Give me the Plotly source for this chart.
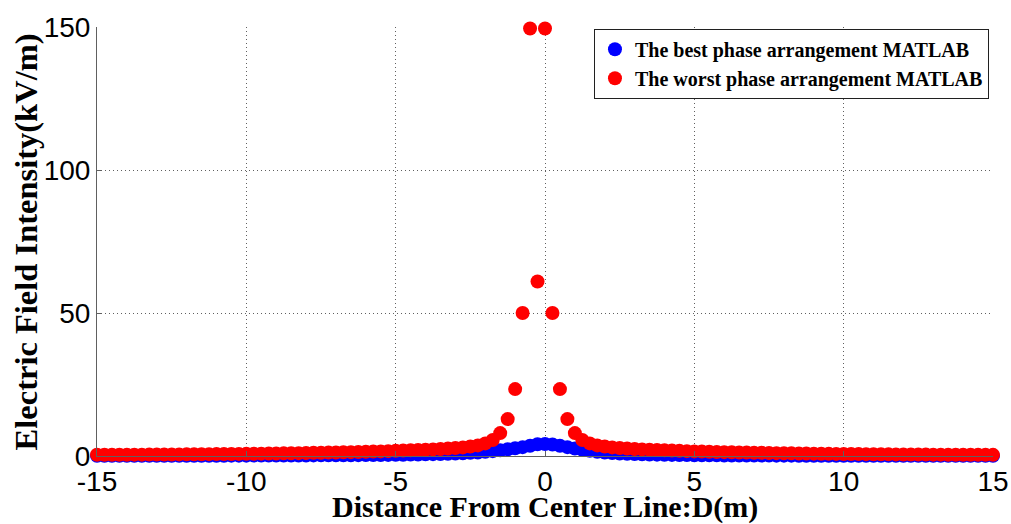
import plotly.graph_objects as go

# Lateral distance from the line centre (m), 0.25 m spacing
distance_m = [
    -15.0, -14.75, -14.5, -14.25, -14.0, -13.75, -13.5, -13.25, -13.0, -12.75,
    -12.5, -12.25, -12.0, -11.75, -11.5, -11.25, -11.0, -10.75, -10.5, -10.25,
    -10.0, -9.75, -9.5, -9.25, -9.0, -8.75, -8.5, -8.25, -8.0, -7.75,
    -7.5, -7.25, -7.0, -6.75, -6.5, -6.25, -6.0, -5.75, -5.5, -5.25,
    -5.0, -4.75, -4.5, -4.25, -4.0, -3.75, -3.5, -3.25, -3.0, -2.75,
    -2.5, -2.25, -2.0, -1.75, -1.5, -1.25, -1.0, -0.75, -0.5, -0.25,
    0.0, 0.25, 0.5, 0.75, 1.0, 1.25, 1.5, 1.75, 2.0, 2.25,
    2.5, 2.75, 3.0, 3.25, 3.5, 3.75, 4.0, 4.25, 4.5, 4.75,
    5.0, 5.25, 5.5, 5.75, 6.0, 6.25, 6.5, 6.75, 7.0, 7.25,
    7.5, 7.75, 8.0, 8.25, 8.5, 8.75, 9.0, 9.25, 9.5, 9.75,
    10.0, 10.25, 10.5, 10.75, 11.0, 11.25, 11.5, 11.75, 12.0, 12.25,
    12.5, 12.75, 13.0, 13.25, 13.5, 13.75, 14.0, 14.25, 14.5, 14.75,
    15.0,
]

# Field intensity (kV/m) for the best phase arrangement
best_phase = [
    0.05, 0.05, 0.05, 0.06, 0.06, 0.06, 0.07, 0.07, 0.07, 0.08,
    0.08, 0.08, 0.09, 0.09, 0.10, 0.10, 0.11, 0.11, 0.12, 0.12,
    0.13, 0.14, 0.14, 0.15, 0.16, 0.17, 0.18, 0.19, 0.20, 0.21,
    0.22, 0.23, 0.25, 0.26, 0.28, 0.30, 0.32, 0.34, 0.36, 0.39,
    0.42, 0.45, 0.49, 0.53, 0.58, 0.64, 0.70, 0.78, 0.87, 0.97,
    1.10, 1.25, 1.45, 1.70, 2.00, 2.35, 2.70, 3.10, 3.60, 4.10,
    4.20, 4.00, 3.60, 3.10, 2.60, 2.15, 1.80, 1.50, 1.25, 1.05,
    0.90, 0.78, 0.68, 0.60, 0.53, 0.47, 0.42, 0.38, 0.34, 0.31,
    0.28, 0.26, 0.24, 0.22, 0.20, 0.19, 0.18, 0.17, 0.16, 0.15,
    0.14, 0.13, 0.12, 0.12, 0.11, 0.11, 0.10, 0.10, 0.09, 0.09,
    0.08, 0.08, 0.08, 0.08, 0.07, 0.07, 0.07, 0.07, 0.06, 0.06,
    0.06, 0.06, 0.06, 0.05, 0.05, 0.05, 0.05, 0.05, 0.05, 0.05,
    0.05,
]

# Field intensity (kV/m) for the worst phase arrangement
worst_phase = [
    0.42, 0.43, 0.44, 0.45, 0.46, 0.47, 0.48, 0.50, 0.51, 0.53,
    0.54, 0.56, 0.58, 0.60, 0.62, 0.64, 0.66, 0.68, 0.70, 0.73,
    0.76, 0.79, 0.82, 0.85, 0.88, 0.92, 0.95, 1.00, 1.05, 1.10,
    1.15, 1.20, 1.25, 1.30, 1.35, 1.40, 1.50, 1.55, 1.60, 1.70,
    1.80, 1.90, 2.00, 2.10, 2.20, 2.30, 2.45, 2.60, 2.80, 3.00,
    3.30, 3.70, 4.40, 5.60, 8.00, 12.9, 23.4, 50.0, 149.5, 61.0,
    149.5, 50.0, 23.4, 12.9, 8.00, 5.60, 4.40, 3.70, 3.30, 3.00,
    2.80, 2.60, 2.45, 2.30, 2.20, 2.10, 2.00, 1.90, 1.80, 1.70,
    1.60, 1.55, 1.50, 1.40, 1.35, 1.30, 1.25, 1.20, 1.15, 1.10,
    1.05, 1.00, 0.95, 0.92, 0.88, 0.85, 0.82, 0.79, 0.76, 0.73,
    0.70, 0.68, 0.66, 0.64, 0.62, 0.60, 0.58, 0.56, 0.54, 0.53,
    0.51, 0.50, 0.48, 0.47, 0.46, 0.45, 0.44, 0.43, 0.42, 0.41,
    0.40,
]

x_ticks = [-15, -10, -5, 0, 5, 10, 15]
y_ticks = [0, 50, 100, 150]

x_title = "Distance From Center Line:D(m)"
y_title = "Electric Field Intensity(kV/m)"

serif = "Liberation Serif, Times New Roman, serif"

fig = go.Figure()
fig.add_trace(go.Scatter(
    x=distance_m, y=best_phase, mode="markers",
    name="The best phase arrangement MATLAB",
    marker=dict(color="#0000ff", size=14, line=dict(width=0)),
    cliponaxis=False,
))
fig.add_trace(go.Scatter(
    x=distance_m, y=worst_phase, mode="markers",
    name="The worst phase arrangement MATLAB",
    marker=dict(color="#ff0000", size=14, line=dict(width=0)),
    cliponaxis=False,
))

axis_common = dict(
    showline=True, linecolor="#606060", linewidth=1,
    showgrid=True, gridcolor="#606060", griddash="1px,3px", gridwidth=1,
    zeroline=False, ticks="inside", ticklen=5, tickcolor="#606060",
    automargin=False,
    tickfont=dict(family="Liberation Sans, Arial, sans-serif", size=28, color="black"),
)

fig.update_xaxes(
    range=[-15, 15], tickvals=x_ticks, ticktext=[str(v) for v in x_ticks],
    ticklabelstandoff=0,
    **axis_common,
)
fig.update_yaxes(
    range=[0, 150], tickvals=y_ticks, ticktext=[str(v) for v in y_ticks],
    **axis_common,
)

# Axis titles, placed below / left of the plot area
fig.add_annotation(
    text=x_title, xref="paper", yref="paper", x=0.5, y=-0.075,
    xanchor="center", yanchor="top", showarrow=False,
    font=dict(size=30, family=serif, color="black", weight="bold"),
)
fig.add_annotation(
    text=y_title, xref="paper", yref="paper", x=-0.057, y=0.5,
    xanchor="right", yanchor="middle", textangle=-90, showarrow=False,
    font=dict(size=32.5, family=serif, color="black", weight="bold"),
)

fig.update_layout(
    width=1011, height=524,
    margin=dict(l=97, r=18, t=27, b=68),
    paper_bgcolor="white", plot_bgcolor="white",
    showlegend=True,
    legend=dict(
        x=0.9955, y=0.996, xanchor="right", yanchor="top",
        bgcolor="white", bordercolor="#202020", borderwidth=1,
        font=dict(size=20, family=serif, color="black", weight="bold"),
        itemsizing="trace", tracegroupgap=0,
    ),
)

fig.write_html("out.html")
